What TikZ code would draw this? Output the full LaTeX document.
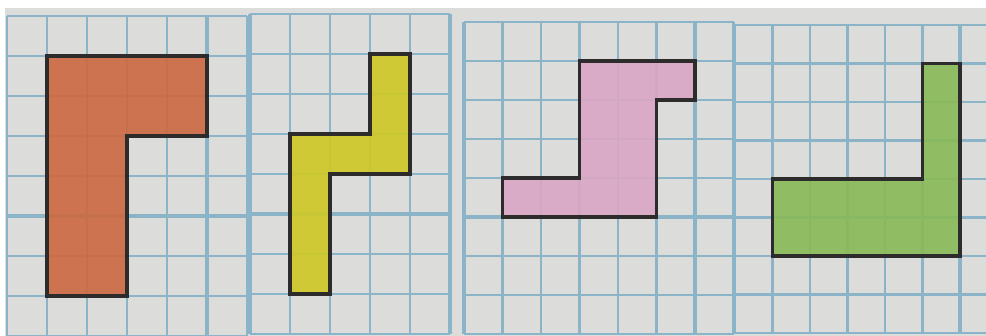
\documentclass[tikz,border=0pt]{standalone}
\usepackage{tikz}
\definecolor{paper}{RGB}{220,220,218}
\definecolor{gridblue}{RGB}{140,180,200}
\definecolor{outline}{RGB}{45,43,43}
\definecolor{orangepiece}{RGB}{205,104,64}
\definecolor{yellowpiece}{RGB}{206,200,36}
\definecolor{pinkpiece}{RGB}{218,166,196}
\definecolor{greenpiece}{RGB}{136,186,88}

\begin{document}
\begin{tikzpicture}
  [x=1pt, y=-1pt,
   grid line/.style={draw=gridblue, line width=2.3pt},
   major line/.style={draw=gridblue, line width=3.6pt},
   piece/.style={draw=outline, line width=3.4pt, fill opacity=0.9}]
  \useasboundingbox (0,0) rectangle (986,336);
  \clip (0,0) rectangle (986,336);
  \fill[white] (0,0) rectangle (986,336);
  \fill[paper] (5,8) rectangle (986,336);
  % sheet 1
  \begin{scope}[shift={(7,16)}, x=40pt, y=-40pt]
    \foreach \i in {0,...,6} \draw[grid line] (\i,0) -- (\i,8);
    \foreach \j in {0,...,8} \draw[grid line] (0,\j) -- (6,\j);
    \draw[major line] (5,0) -- (5,8);
    \draw[major line] (0,5) -- (6,5);
    \draw[piece, fill=orangepiece] (1,1) -- (5,1) -- (5,3) -- (3,3) -- (3,7) -- (1,7) -- cycle;
  \end{scope}
  % sheet 2
  \begin{scope}[shift={(250,14)}, x=40pt, y=-40pt]
    \foreach \i in {0,...,5} \draw[grid line] (\i,0) -- (\i,8);
    \foreach \j in {0,...,8} \draw[grid line] (0,\j) -- (5,\j);
    \draw[major line] (0,0) -- (0,8);
    \draw[major line] (5,0) -- (5,8);
    \draw[major line] (0,5) -- (5,5);
    \draw[piece, fill=yellowpiece] (3,1) -- (4,1) -- (4,4) -- (2,4) -- (2,7) -- (1,7) -- (1,3) -- (3,3) -- cycle;
  \end{scope}
  % sheet 3
  \begin{scope}[shift={(464,22)}, x=38.5pt, y=-39pt]
    \foreach \i in {0,...,7} \draw[grid line] (\i,0) -- (\i,8);
    \foreach \j in {0,...,8} \draw[grid line] (0,\j) -- (7,\j);
    \draw[major line] (0,0) -- (0,8);
    \draw[major line] (6,0) -- (6,8);
    \draw[major line] (0,5) -- (7,5);
    \draw[piece, fill=pinkpiece] (3,1) -- (6,1) -- (6,2) -- (5,2) -- (5,5) -- (1,5) -- (1,4) -- (3,4) -- cycle;
  \end{scope}
  % sheet 4
  \begin{scope}[shift={(735,25)}, x=37.5pt, y=-38.5pt]
    \foreach \i in {0,...,7} \draw[grid line] (\i,0) -- (\i,8);
    \foreach \j in {0,...,8} \draw[grid line] (0,\j) -- (7,\j);
    \draw[major line] (6,0) -- (6,8);
    \draw[major line] (0,5) -- (7,5);
    \draw[piece, fill=greenpiece] (5,1) -- (6,1) -- (6,6) -- (1,6) -- (1,4) -- (5,4) -- cycle;
  \end{scope}
\end{tikzpicture}
\end{document}
